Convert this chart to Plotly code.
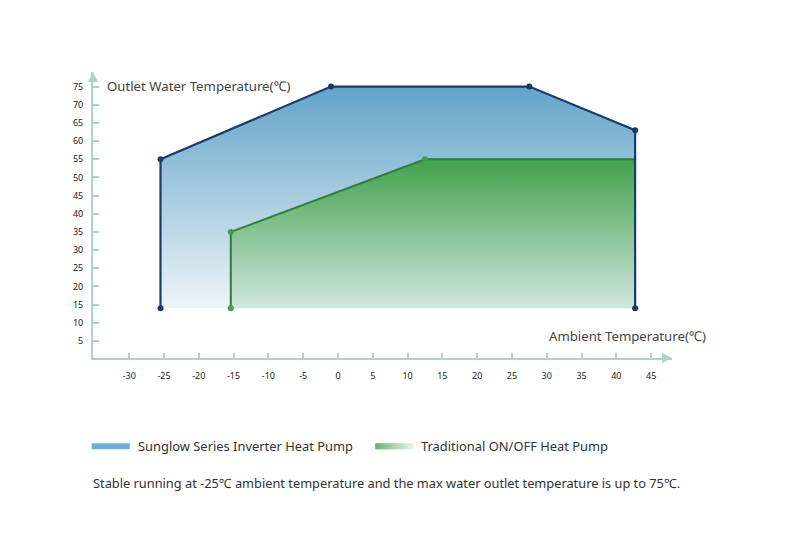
import plotly.graph_objects as go

# Inverter heat pump operating envelope (ambient °C, outlet °C)
inv_x = [-25.5, -25.5, -1, 27.5, 42.7, 42.7]
inv_y = [14, 55, 75, 75, 63, 14]
# Traditional ON/OFF heat pump envelope
trad_x = [-15.4, -15.4, 12.5, 42.7, 42.7]
trad_y = [14, 35, 55, 55, 14]
trad_marker_n = 3

x_ticks = [-30, -25, -20, -15, -10, -5, 0, 5, 10, 15, 20, 25, 30, 35, 40, 45]
y_ticks = [5, 10, 15, 20, 25, 30, 35, 40, 45, 50, 55, 60, 65, 70, 75]

NAVY = "#1b3a6e"
GREEN_LINE = "#2d7d3a"
GREEN_MK = "#3f9f4a"
AXIS = "#a9d6c9"
FONT = "Noto Sans"

# page offset (browser body margin)
OFF = 8
PL, PR, PT, PB = 93.3, 671.9, 72.2, 357.8  # plot area in reference pixels
PW, PH = PR - PL, PB - PT

def px2paper_x(p):
    return (p - PL) / PW

def px2paper_y(p):
    return (PB - p) / PH

fig = go.Figure()

fig.add_trace(go.Scatter(
    x=inv_x + [inv_x[0]], y=inv_y + [inv_y[0]], mode="none", fill="toself",
    fillgradient=dict(type="vertical", colorscale=[[0, "#eef5f9"], [1, "#62a4c7"]]),
    hoverinfo="skip", showlegend=False))
fig.add_trace(go.Scatter(
    x=trad_x + [trad_x[0]], y=trad_y + [trad_y[0]], mode="none", fill="toself",
    fillgradient=dict(type="vertical", colorscale=[[0, "#cfe7e0"], [1, "#43a04b"]]),
    hoverinfo="skip", showlegend=False))
fig.add_trace(go.Scatter(
    x=trad_x[:-1], y=trad_y[:-1], mode="lines", line=dict(color=GREEN_LINE, width=2),
    hoverinfo="skip", showlegend=False))
fig.add_trace(go.Scatter(
    x=trad_x[:trad_marker_n], y=trad_y[:trad_marker_n], mode="markers",
    marker=dict(color=GREEN_MK, size=6), hoverinfo="skip", showlegend=False))
fig.add_trace(go.Scatter(
    x=inv_x, y=inv_y, mode="lines+markers", line=dict(color=NAVY, width=2.2),
    marker=dict(color=NAVY, size=6), hoverinfo="skip", showlegend=False))

fig.update_xaxes(
    range=[-35.2, 48], showgrid=False, zeroline=False, showline=True,
    linecolor=AXIS, linewidth=2, ticks="inside", ticklen=5, tickwidth=1.5,
    tickcolor=AXIS, tickvals=x_ticks, ticktext=[str(v) for v in x_ticks],
    tickfont=dict(family=FONT, size=9, color="#222"), ticklabelstandoff=8)
fig.update_yaxes(
    range=[0.3, 79], showgrid=False, zeroline=False, showline=True,
    linecolor=AXIS, linewidth=2, ticks="inside", ticklen=6, tickwidth=1.5,
    tickcolor=AXIS, tickvals=y_ticks, ticktext=[str(v) for v in y_ticks],
    tickfont=dict(family=FONT, size=9, color="#222"), ticklabelstandoff=6)

annotations = [
    dict(xref="paper", yref="paper", x=px2paper_x(105), y=px2paper_y(86.5),
         xanchor="left", yanchor="middle",
         text="Outlet Water Temperature(℃)", showarrow=False,
         font=dict(family=FONT, size=13.2, color="#444")),
    dict(xref="paper", yref="paper", x=px2paper_x(708), y=px2paper_y(336),
         xanchor="right", yanchor="middle",
         text="Ambient Temperature(℃)", showarrow=False,
         font=dict(family=FONT, size=13.2, color="#444")),
    # axis arrows
    dict(xref="paper", yref="paper", x=1.0, y=0, ax=-8, ay=0, axref="pixel", ayref="pixel",
         showarrow=True, arrowhead=2, arrowsize=1, arrowwidth=2, arrowcolor=AXIS, text=""),
    dict(xref="paper", yref="paper", x=0, y=1.0, ax=0, ay=8, axref="pixel", ayref="pixel",
         showarrow=True, arrowhead=2, arrowsize=1, arrowwidth=2, arrowcolor=AXIS, text=""),
    # legend texts
    dict(xref="paper", yref="paper", x=px2paper_x(136), y=px2paper_y(446),
         xanchor="left", yanchor="middle", text="Sunglow Series Inverter Heat Pump",
         showarrow=False, font=dict(family=FONT, size=12.9, color="#333")),
    dict(xref="paper", yref="paper", x=px2paper_x(419), y=px2paper_y(446),
         xanchor="left", yanchor="middle", text="Traditional ON/OFF Heat Pump",
         showarrow=False, font=dict(family=FONT, size=12.9, color="#333")),
    dict(xref="paper", yref="paper", x=px2paper_x(91), y=px2paper_y(483),
         xanchor="left", yanchor="middle",
         text="Stable running at -25℃ ambient temperature and the max water outlet temperature is up to 75℃.",
         showarrow=False, font=dict(family=FONT, size=12.8, color="#333")),
]

shapes = [dict(type="rect", xref="paper", yref="paper",
               x0=px2paper_x(92), x1=px2paper_x(130),
               y0=px2paper_y(449), y1=px2paper_y(443),
               fillcolor="#6aaed2", line=dict(width=0), layer="above")]
# green gradient legend swatch
n = 38
g0 = (0x3a, 0x9a, 0x45)
g1 = (0xdf, 0xf1, 0xe8)
for i in range(n):
    t = i / (n - 1)
    c = tuple(int(round(g0[k] + (g1[k] - g0[k]) * t)) for k in range(3))
    shapes.append(dict(type="rect", xref="paper", yref="paper",
                       x0=px2paper_x(375.5 + i), x1=px2paper_x(376.5 + i),
                       y0=px2paper_y(449), y1=px2paper_y(443),
                       fillcolor="rgb(%d,%d,%d)" % c, line=dict(width=0), layer="above"))

fig.update_layout(
    width=812, height=536,
    margin=dict(l=PL - OFF, r=812 - (PR - OFF), t=PT - OFF, b=536 - (PB - OFF),
                autoexpand=False),
    paper_bgcolor="white", plot_bgcolor="white",
    showlegend=False, annotations=annotations, shapes=shapes,
    font=dict(family=FONT),
)

fig.write_html("out.html")
